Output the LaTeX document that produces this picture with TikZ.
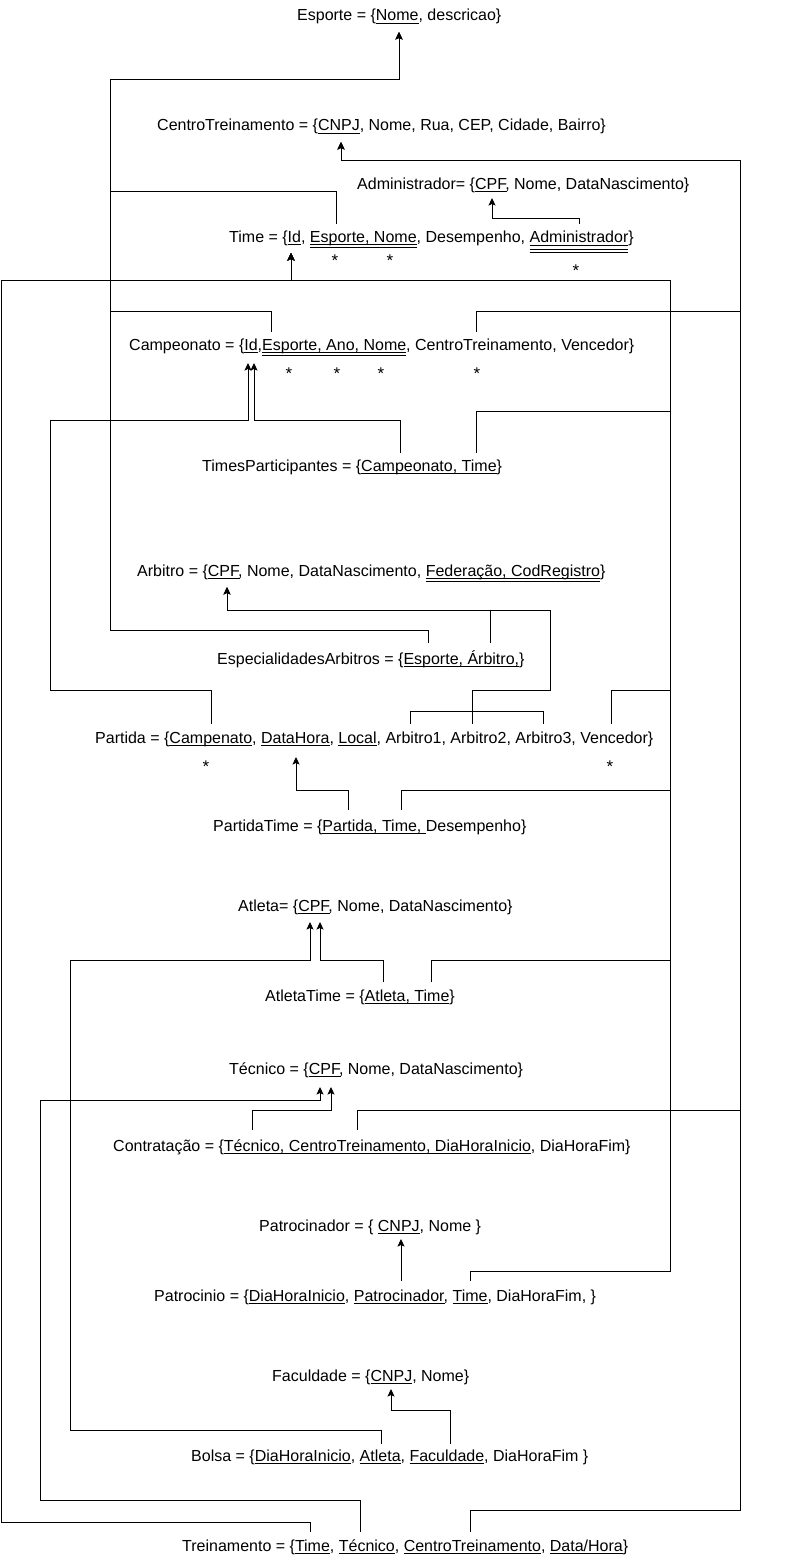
\documentclass[tikz,border=0pt]{standalone}
\usepackage{fontspec}
\setmainfont{Liberation Sans}
\usetikzlibrary{arrows.meta}

% underlines drawn as rules under the key attributes
\newlength\ulwd
\newcommand\ulone[1]{\settowidth\ulwd{#1}\rlap{\rule[-3.2bp]{\ulwd}{0.9bp}}#1}
\newcommand\ultwo[1]{\settowidth\ulwd{#1}\rlap{\rule[-3.2bp]{\ulwd}{0.9bp}}\rlap{\rule[-6bp]{\ulwd}{0.9bp}}#1}
\newcommand\ulthree[1]{\settowidth\ulwd{#1}\rlap{\rule[-4bp]{\ulwd}{0.9bp}}\rlap{\rule[-7.7bp]{\ulwd}{0.9bp}}\rlap{\rule[-10.7bp]{\ulwd}{0.9bp}}#1}

\tikzset{
  rel/.style={font=\fontsize{16bp}{19bp}\selectfont, anchor=base west, inner sep=0pt},
  star/.style={font=\fontsize{17bp}{19bp}\selectfont, anchor=base, inner sep=0pt},
  link/.style={line width=1bp, line join=miter},
  fk/.style={link, -{Stealth[length=7.5bp,width=7bp,inset=1.5bp]}}
}

\begin{document}
\begin{tikzpicture}[x=1bp,y=-1bp]
\fill[white] (0,0) rectangle (788,1561);
\useasboundingbox (0,0) rectangle (788,1561);

% relations
\node[rel] (esporte) at (297,21) {Esporte = \{\ulone{Nome}, descricao\}};
\node[rel] (centro) at (157,131) {CentroTreinamento = \{\ulone{CNPJ}, Nome, Rua, CEP, Cidade, Bairro\}};
\node[rel] (admin) at (357,189) {Administrador= \{\ulone{CPF}, Nome, DataNascimento\}};
\node[rel] (time) at (229,242) {Time = \{\ulone{Id}, \ultwo{Esporte, Nome}, Desempenho, \ulthree{Administrador}\}};
\node[rel] (camp) at (129,350) {Campeonato = \{\ulone{Id},\ultwo{Esporte, Ano, Nome}, CentroTreinamento, Vencedor\}};
\node[rel] (tpart) at (202,471) {TimesParticipantes = \{\ulone{Campeonato, Time}\}};
\node[rel] (arb) at (137,576) {Arbitro = \{\ulone{CPF}, Nome, DataNascimento, \ultwo{Federação, CodRegistro}\}};
\node[rel] (esparb) at (217,664) {EspecialidadesArbitros = \{\ulone{Esporte, Árbitro,}\}};
\node[rel] (partida) at (95,743) {Partida = \{\ulone{Campenato}, \ulone{DataHora}, \ulone{Local}, Arbitro1, Arbitro2, Arbitro3, Vencedor\}};
\node[rel] (ptime) at (213,831) {PartidaTime = \{\ulone{Partida, Time, }Desempenho\}};
\node[rel] (atleta) at (238,911) {Atleta= \{\ulone{CPF}, Nome, DataNascimento\}};
\node[rel] (atime) at (265,1001) {AtletaTime = \{\ulone{Atleta, Time}\}};
\node[rel] (tecnico) at (229,1074) {Técnico = \{\ulone{CPF}, Nome, DataNascimento\}};
\node[rel] (contrat) at (113,1151) {Contratação = \{\ulone{Técnico, CentroTreinamento, DiaHoraInicio}, DiaHoraFim\}};
\node[rel] (patrocinador) at (259,1231) {Patrocinador = \{ \ulone{CNPJ}, Nome \}};
\node[rel] (patrocinio) at (154,1301) {Patrocinio = \{\ulone{DiaHoraInicio}, \ulone{Patrocinador}, \ulone{Time}, DiaHoraFim, \}};
\node[rel] (faculdade) at (272,1381) {Faculdade = \{\ulone{CNPJ}, Nome\}};
\node[rel] (bolsa) at (191,1461) {Bolsa = \{\ulone{DiaHoraInicio}, \ulone{Atleta}, \ulone{Faculdade}, DiaHoraFim \}};
\node[rel] (treino) at (182,1551) {Treinamento = \{\ulone{Time}, \ulone{Técnico}, \ulone{CentroTreinamento}, \ulone{Data/Hora}\}};

% asterisks under attributes
\node[star] (st1) at (335,266) {*};
\node[star] (st2) at (390,266) {*};
\node[star] (st3) at (576,276) {*};
\node[star] (sc1) at (289,379) {*};
\node[star] (sc2) at (337,379) {*};
\node[star] (sc3) at (381,379) {*};
\node[star] (sc4) at (477,379) {*};
\node[star] (sp1) at (206,772) {*};
\node[star] (sp2) at (610,772) {*};

% attribute ports
\coordinate (esporte-nome) at (399,32);
\coordinate (ct-cnpj) at (341,142);
\coordinate (adm-cpf) at (492,198);
\coordinate (time-id) at (291,253);
\coordinate (time-esp) at (336,224);
\coordinate (time-adm) at (579,224);
\coordinate (camp-idA) at (248,363);
\coordinate (camp-idB) at (254,363);
\coordinate (camp-esp) at (271,332);
\coordinate (camp-ct) at (476,332);
\coordinate (tp-camp) at (400,453);
\coordinate (tp-time) at (476,453);
\coordinate (arb-cpf) at (227,587);
\coordinate (ea-esp) at (428,643);
\coordinate (ea-arb) at (490,643);
\coordinate (part-camp) at (211,724);
\coordinate (part-dh) at (296,757);
\coordinate (part-a1) at (410,724);
\coordinate (part-a2) at (472,724);
\coordinate (part-a3) at (543,724);
\coordinate (part-venc) at (611,724);
\coordinate (pt-part) at (348,810);
\coordinate (pt-time) at (401,810);
\coordinate (atl-cpfA) at (310,922);
\coordinate (atl-cpfB) at (320,922);
\coordinate (at-atl) at (383,982);
\coordinate (at-time) at (431,982);
\coordinate (tec-cpfA) at (320,1087);
\coordinate (tec-cpfB) at (331,1087);
\coordinate (con-tec) at (252,1130);
\coordinate (con-ct) at (357,1130);
\coordinate (pat-cnpj) at (401,1239);
\coordinate (pa-pat) at (401,1281);
\coordinate (pa-time) at (470,1281);
\coordinate (fac-cnpj) at (391,1389);
\coordinate (bol-atl) at (381,1444);
\coordinate (bol-fac) at (450,1444);
\coordinate (tr-time) at (310,1532);
\coordinate (tr-tec) at (360,1532);
\coordinate (tr-ct) at (470,1532);

% references to Esporte
\draw[fk] (time-esp) |- (110,191) -- (110,80) -| (esporte-nome);
\draw[fk] (camp-esp) |- (110,311) -- (110,80) -| (esporte-nome);
\draw[fk] (ea-esp) |- (110,630) -- (110,80) -| (esporte-nome);

% references to CentroTreinamento
\draw[fk] (camp-ct) |- (740,311) -- (740,160) -| (ct-cnpj);
\draw[fk] (con-ct) |- (740,1110) -- (740,160) -| (ct-cnpj);
\draw[fk] (tr-ct) |- (740,1510) -- (740,160) -| (ct-cnpj);

% reference to Administrador
\draw[fk] (time-adm) -- (579,218) -| (adm-cpf);

% references to Time
\draw[fk] (tp-time) |- (670,411) -- (670,280) -| (time-id);
\draw[fk] (part-venc) |- (670,690) -- (670,280) -| (time-id);
\draw[fk] (pt-time) |- (670,790) -- (670,280) -| (time-id);
\draw[fk] (at-time) |- (670,960) -- (670,280) -| (time-id);
\draw[fk] (pa-time) |- (670,1271) -- (670,280) -| (time-id);
\draw[fk] (tr-time) |- (1,1522) -- (1,280) -| (time-id);

% references to Campeonato
\draw[fk] (tp-camp) -- (400,420) -| (camp-idB);
\draw[fk] (part-camp) |- (50,690) -- (50,420) -| (camp-idA);

% references to Arbitro
\draw[fk] (ea-arb) -- (490,610) -| (arb-cpf);
\draw[fk] (part-a2) -- (472,690) -| (550,610) -| (arb-cpf);
\draw[link] (part-a1) -- (410,711) -- (543,711) -- (part-a3);

% reference to Partida
\draw[fk] (pt-part) -- (348,790) -| (part-dh);

% references to Atleta
\draw[fk] (at-atl) -- (383,960) -| (atl-cpfB);
\draw[fk] (bol-atl) |- (70,1430) -- (70,960) -| (atl-cpfA);

% references to Técnico
\draw[fk] (con-tec) -- (252,1110) -| (tec-cpfB);
\draw[fk] (tr-tec) |- (40,1500) -- (40,1100) -| (tec-cpfA);

% reference to Patrocinador
\draw[fk] (pa-pat) -- (pat-cnpj);

% reference to Faculdade
\draw[fk] (bol-fac) -- (450,1410) -| (fac-cnpj);
\end{tikzpicture}
\end{document}
